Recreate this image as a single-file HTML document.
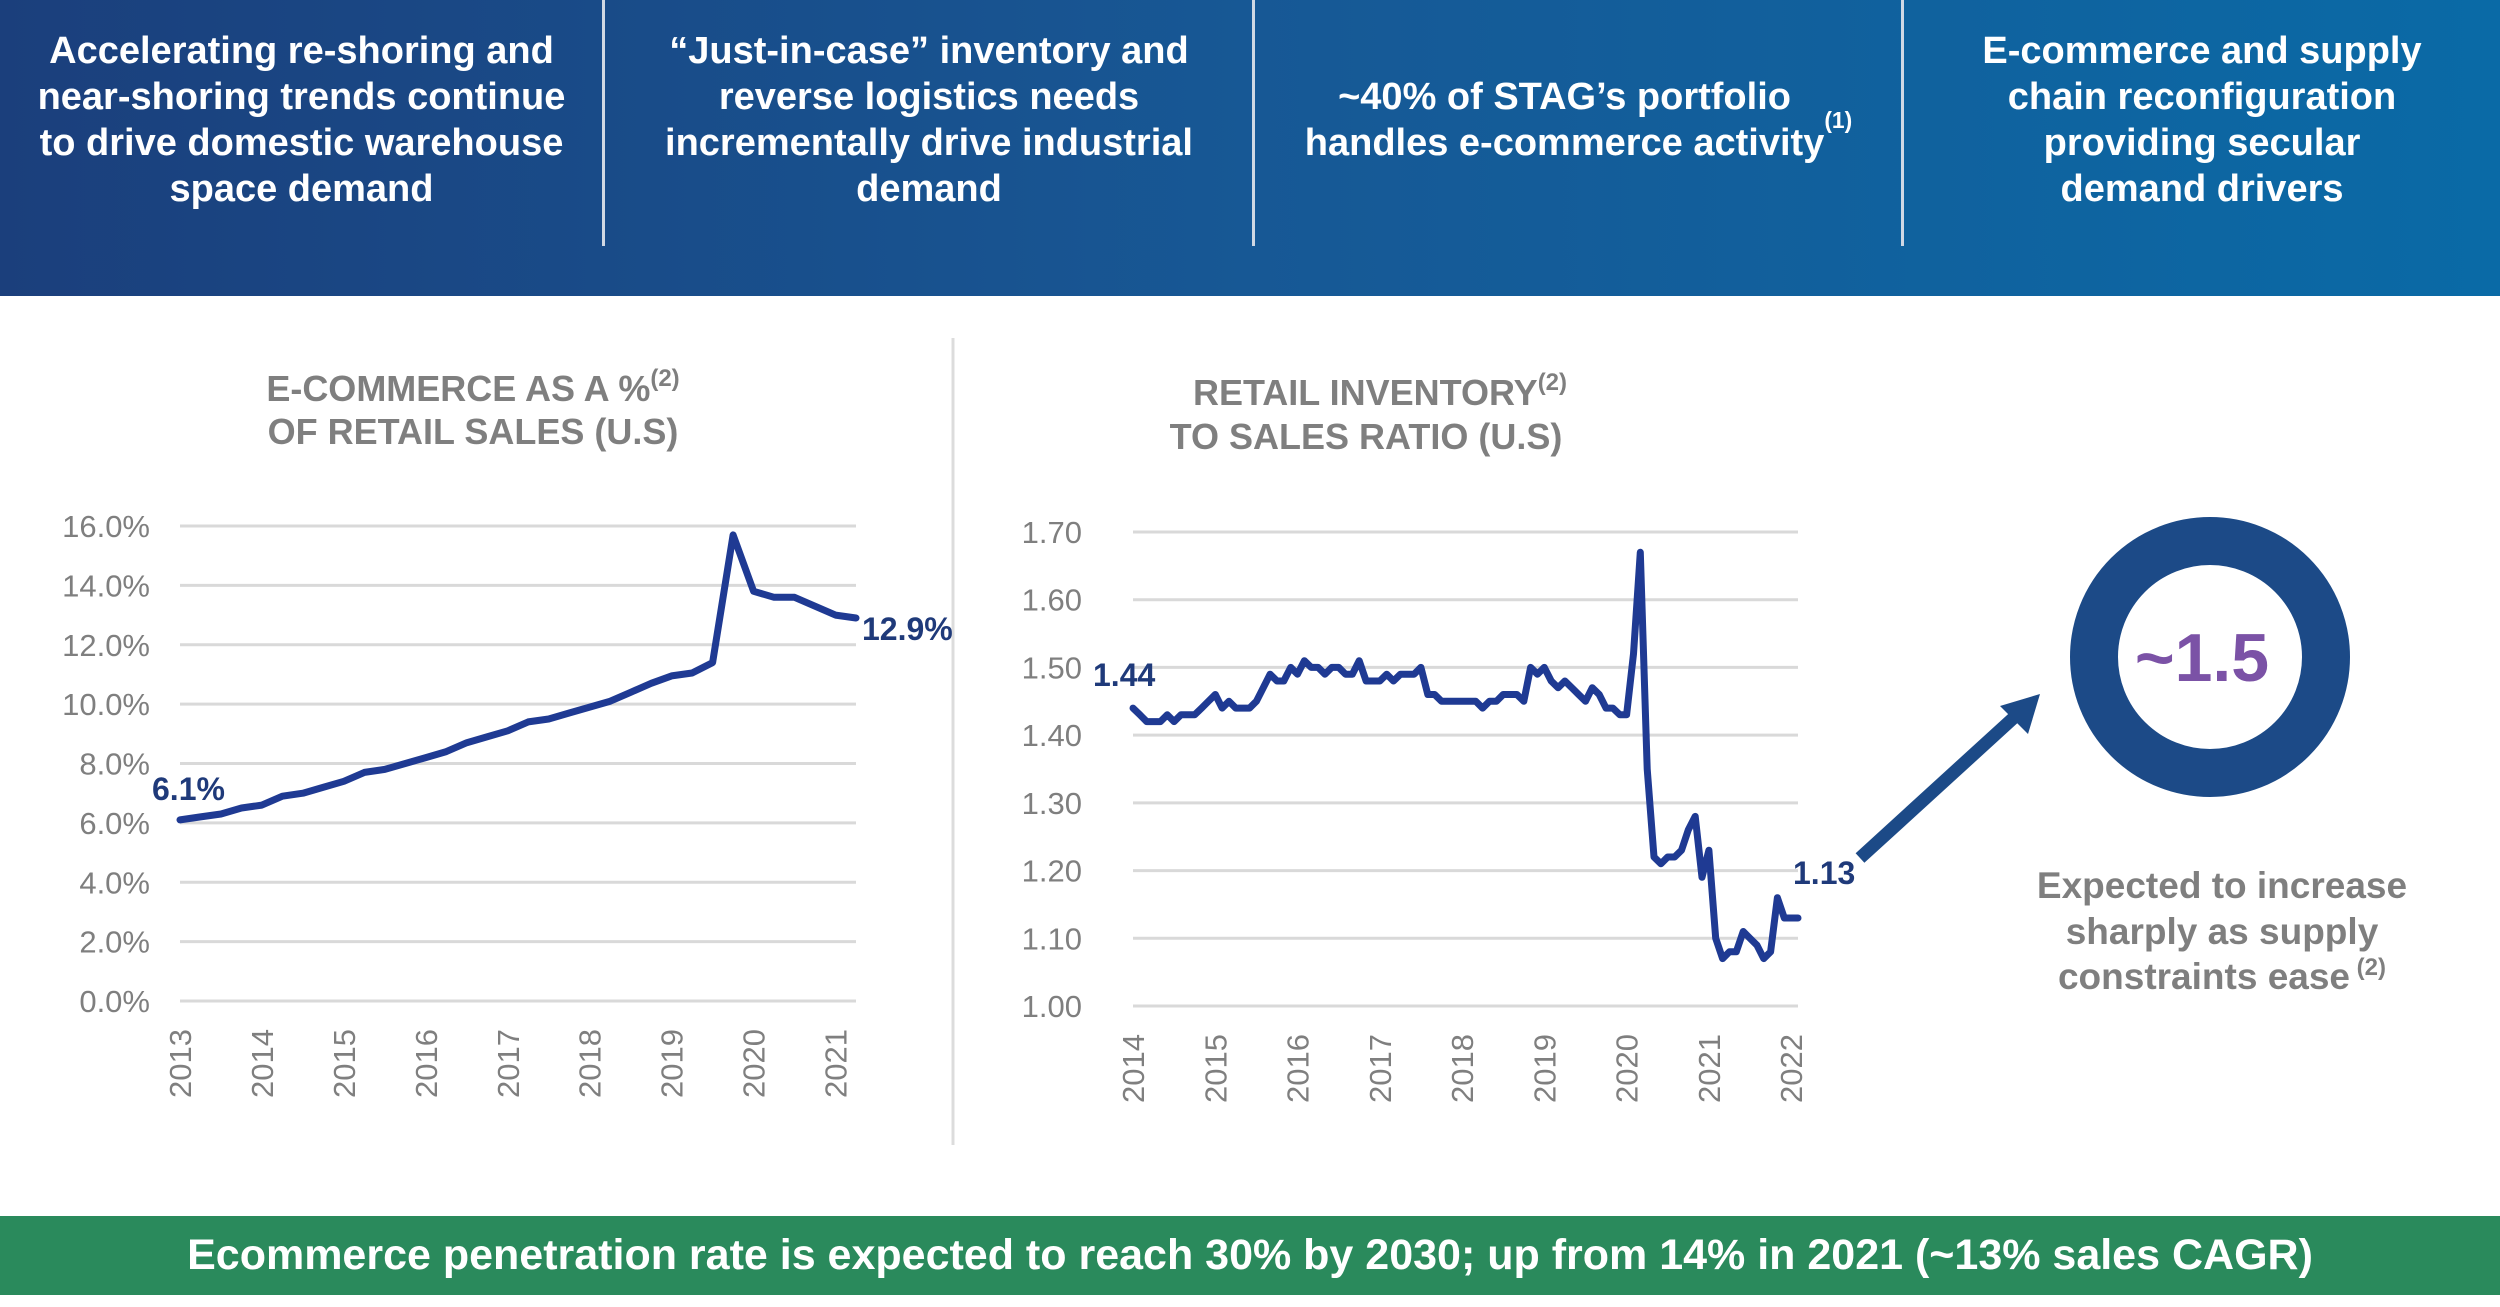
<!DOCTYPE html>
<html><head><meta charset="utf-8">
<style>
html,body{margin:0;padding:0;}
body{width:2500px;height:1307px;position:relative;overflow:hidden;background:#fff;font-family:"Liberation Sans",sans-serif;}
#header{position:absolute;left:0;top:0;width:2500px;height:296px;background:linear-gradient(90deg,#1b3f7c 0%,#175895 50%,#0a6aa6 100%);}
.hcell{position:absolute;top:0;height:240px;display:flex;align-items:center;justify-content:center;text-align:center;color:#fff;font-weight:bold;font-size:38px;line-height:46px;}
.hdiv{position:absolute;top:0;width:3px;height:246px;background:#d0d8e4;}
sup{font-size:0.6em;}
#banner{position:absolute;left:0;top:1216px;width:2500px;height:79px;background:#2a8a5c;color:#fff;font-weight:bold;font-size:43px;display:flex;align-items:center;justify-content:center;}
svg text{font-family:"Liberation Sans",sans-serif;}
</style></head><body>
<div id="header">
  <div class="hcell" style="left:0;width:603px;">Accelerating re-shoring and<br>near-shoring trends continue<br>to drive domestic warehouse<br>space demand</div>
  <div class="hdiv" style="left:602px"></div>
  <div class="hcell" style="left:605px;width:648px;">“Just-in-case” inventory and<br>reverse logistics needs<br>incrementally drive industrial<br>demand</div>
  <div class="hdiv" style="left:1252px"></div>
  <div class="hcell" style="left:1255px;width:647px;">~40% of STAG’s portfolio<br>handles e-commerce activity<sup> (1)</sup></div>
  <div class="hdiv" style="left:1901px"></div>
  <div class="hcell" style="left:1904px;width:596px;">E-commerce and supply<br>chain reconfiguration<br>providing secular<br>demand drivers</div>
</div>

<svg id="charts" width="2500" height="1307" style="position:absolute;left:0;top:0">
  <line x1="953" y1="338" x2="953" y2="1145" stroke="#dcdcdc" stroke-width="3"/>
  <text x="473" y="401" text-anchor="middle" font-size="36" font-weight="bold" fill="#7f7f7f">E-COMMERCE AS A %<tspan font-size="24" dy="-15">(2)</tspan></text>
  <text x="473" y="444" text-anchor="middle" font-size="36" font-weight="bold" fill="#7f7f7f">OF RETAIL SALES (U.S)</text>
  <text x="1380" y="405" text-anchor="middle" font-size="36" font-weight="bold" fill="#7f7f7f">RETAIL INVENTORY<tspan font-size="24" dy="-15">(2)</tspan></text>
  <text x="1366" y="449" text-anchor="middle" font-size="36" font-weight="bold" fill="#7f7f7f">TO SALES RATIO (U.S)</text>
  <g id="left-chart"></g>
  <g id="right-chart"></g>
  <circle cx="2210" cy="657" r="116" fill="none" stroke="#1c4a87" stroke-width="48"/>
  <text x="2202" y="681" text-anchor="middle" font-size="68" font-weight="bold" fill="#7b52a6">~1.5</text>
  <line x1="1860" y1="858" x2="2020" y2="712" stroke="#1c4a87" stroke-width="13"/>
  <polygon points="2040,694 2000,706 2028,734" fill="#1c4a87"/>
  <g font-size="37" font-weight="bold" fill="#7f7f7f" text-anchor="middle">
    <text x="2222" y="898">Expected to increase</text>
    <text x="2222" y="944">sharply as supply</text>
    <text x="2222" y="989">constraints ease<tspan font-size="24" dy="-14"> (2)</tspan></text>
  </g>
</svg>

<div id="banner">Ecommerce penetration rate is expected to reach 30% by 2030; up from 14% in 2021 (~13% sales CAGR)</div>

<script>
// Left chart data (quarterly, 2013Q1 - 2021Q2)
const ecomValues = [6.1,6.2,6.3,6.5,6.6,6.9,7.0,7.2,7.4,7.7,7.8,8.0,8.2,8.4,8.7,8.9,9.1,9.4,9.5,9.7,9.9,10.1,10.4,10.7,10.95,11.05,11.4,15.7,13.8,13.6,13.6,13.3,13.0,12.9];
const ecomYTicks = [0,2,4,6,8,10,12,14,16];
const ecomYears = ["2013","2014","2015","2016","2017","2018","2019","2020","2021"];
const ecomStartLabel = "6.1%";
const ecomEndLabel = "12.9%";
// Right chart data (monthly, 2014-01 - 2022-02)
const invValues = [
1.44,1.43,1.42,1.42,1.42,1.43,1.42,1.43,1.43,1.43,1.44,1.45,
1.46,1.44,1.45,1.44,1.44,1.44,1.45,1.47,1.49,1.48,1.48,1.50,
1.49,1.51,1.50,1.50,1.49,1.50,1.50,1.49,1.49,1.51,1.48,1.48,
1.48,1.49,1.48,1.49,1.49,1.49,1.50,1.46,1.46,1.45,1.45,1.45,
1.45,1.45,1.45,1.44,1.45,1.45,1.46,1.46,1.46,1.45,1.50,1.49,
1.50,1.48,1.47,1.48,1.47,1.46,1.45,1.47,1.46,1.44,1.44,1.43,
1.43,1.52,1.67,1.35,1.22,1.21,1.22,1.22,1.23,1.26,1.28,1.19,
1.23,1.10,1.07,1.08,1.08,1.11,1.10,1.09,1.07,1.08,1.16,1.13,
1.13,1.13];
const invYTicks = [1.00,1.10,1.20,1.30,1.40,1.50,1.60,1.70];
const invYears = ["2014","2015","2016","2017","2018","2019","2020","2021","2022"];
const invStartLabel = "1.44";
const invEndLabel = "1.13";

const NS="http://www.w3.org/2000/svg";
function mk(parent,tag,attrs,txt){const e=document.createElementNS(NS,tag);for(const k in attrs)e.setAttribute(k,attrs[k]);if(txt!==undefined)e.textContent=txt;parent.appendChild(e);return e;}

function drawChart(g,cfg){
  const xs=i=>cfg.x0+(cfg.x1-cfg.x0)*i/(cfg.values.length-1);
  const ys=v=>cfg.yB+(cfg.yT-cfg.yB)*(v-cfg.vmin)/(cfg.vmax-cfg.vmin);
  cfg.yticks.forEach(t=>{
    const l=mk(g,'line',{x1:cfg.x0,x2:cfg.gx1,y1:ys(t),y2:ys(t),stroke:'#d9d9d9','stroke-width':3});
    
    
    const tx=mk(g,'text',{x:cfg.labX,y:ys(t)+11,'text-anchor':'end','font-size':31,fill:'#7f7f7f'},cfg.fmt(t));
    
    
  });
  cfg.years.forEach((y,k)=>{
    const x=xs(k*cfg.per)+11;
    const tx=mk(g,'text',{x:0,y:0,transform:`translate(${x},${cfg.yB+28}) rotate(-90)`,'text-anchor':'end','font-size':31,fill:'#7f7f7f'},y);
    
    
  });
  const pts=cfg.values.map((v,i)=>xs(i).toFixed(1)+','+ys(v).toFixed(1)).join(' ');
  const pl=mk(g,'polyline',{points:pts,fill:'none',stroke:'#1f3a93','stroke-width':7,'stroke-linejoin':'round','stroke-linecap':'round'});
  
  
  const n=cfg.values.length-1;
  const s=mk(g,'text',{x:xs(0)+cfg.sdx,y:ys(cfg.values[0])+cfg.sdy,'font-size':32,'font-weight':'bold',fill:'#1f3a7a'},cfg.sLab);
  
  
  const e=mk(g,'text',{x:xs(n)+cfg.edx,y:ys(cfg.values[n])+cfg.edy,'font-size':32,'font-weight':'bold',fill:'#1f3a7a'},cfg.eLab);
  
  
}
drawChart(document.getElementById('left-chart'),{values:ecomValues,yticks:ecomYTicks,years:ecomYears,per:4,
  x0:180,x1:856,gx1:856,yT:526,yB:1001,vmin:0,vmax:16,labX:150,fmt:t=>t.toFixed(1)+'%',
  sLab:ecomStartLabel,eLab:ecomEndLabel,sdx:-28,sdy:-20,edx:6,edy:22});
drawChart(document.getElementById('right-chart'),{values:invValues,yticks:invYTicks,years:invYears,per:12,
  x0:1133,x1:1798,gx1:1798,yT:532,yB:1006,vmin:1.0,vmax:1.7,labX:1082,fmt:t=>t.toFixed(2),
  sLab:invStartLabel,eLab:invEndLabel,sdx:-40,sdy:-22,edx:-5,edy:-34});
</script>
</body></html>
